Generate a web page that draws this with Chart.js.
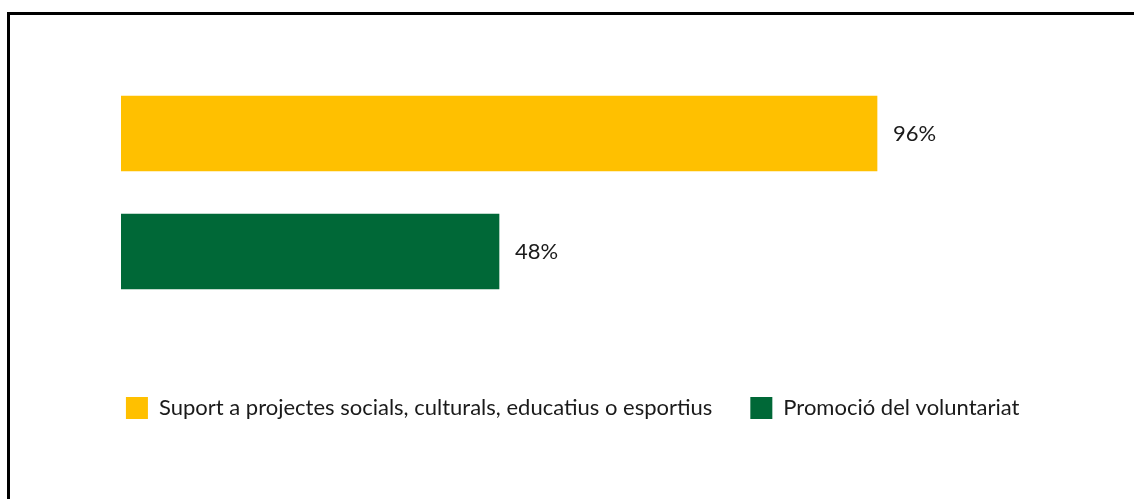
<!DOCTYPE html>
<html>
<head>
<meta charset="utf-8">
<script src="https://cdn.jsdelivr.net/npm/chart.js@4"></script>
<style>
  html, body { margin: 0; padding: 0; background: #fff; }
  #wrap { position: relative; width: 1134px; height: 499px; overflow: hidden; }
  #frame { position: absolute; left: 7px; top: 12px; width: 1140px; height: 500px; border: 3px solid #000; box-sizing: border-box; pointer-events: none; }
  canvas { position: absolute; left: 0; top: 0; }
</style>
</head>
<body>
<div id="wrap">
  <canvas id="chart" width="1134" height="499"></canvas>
  <div id="frame"></div>
</div>
<script>
// Dades
const categories = ["Suport a projectes socials, culturals, educatius o esportius", "Promoció del voluntariat"];
const values = [96, 48];
const colors = ["#FFC000", "#006837"];

const fontFamily = "Lato, 'Open Sans', sans-serif";
const fontSize = 22;

// un dataset per categoria perquè surti a la llegenda
const datasets = categories.map((name, i) => ({
  label: name,
  data: values.map((v, j) => (j === i ? v : null)),
  backgroundColor: colors[i],
  borderWidth: 0,
  barThickness: 75
}));

// etiquetes de percentatge al final de cada barra
const valueLabels = {
  id: "valueLabels",
  afterDatasetsDraw(chart) {
    const ctx = chart.ctx;
    ctx.save();
    ctx.font = fontSize + "px " + fontFamily;
    ctx.fillStyle = "#1a1a1a";
    ctx.textBaseline = "middle";
    ctx.textAlign = "left";
    chart.data.datasets.forEach((ds, i) => {
      chart.getDatasetMeta(i).data.forEach((bar, j) => {
        if (ds.data[j] == null) return;
        ctx.fillText(ds.data[j] + "%", bar.x + 16, bar.y);
      });
    });
    ctx.restore();
  }
};

new Chart(document.getElementById("chart"), {
  type: "bar",
  data: { labels: categories, datasets: datasets },
  options: {
    indexAxis: "y",
    responsive: false,
    animation: false,
    skipNull: true,
    layout: { padding: { left: 40, right: 28.6, top: 74.5, bottom: 70 } },
    scales: {
      x: {
        min: 0,
        max: 125,
        ticks: { display: false },
        grid: { display: false },
        border: { display: false },
        afterFit: (s) => { s.height = 48.5; }
      },
      y: {
        ticks: { display: false },
        grid: { display: false },
        border: { display: false },
        afterFit: (s) => { s.width = 81; }
      }
    },
    plugins: {
      tooltip: { enabled: false },
      legend: {
        position: "bottom",
        labels: {
          boxWidth: 22,
          boxHeight: 22,
          padding: 38,
          color: "#1a1a1a",
          font: { family: fontFamily, size: fontSize }
        }
      }
    }
  },
  plugins: [valueLabels]
});
</script>
</body>
</html>
